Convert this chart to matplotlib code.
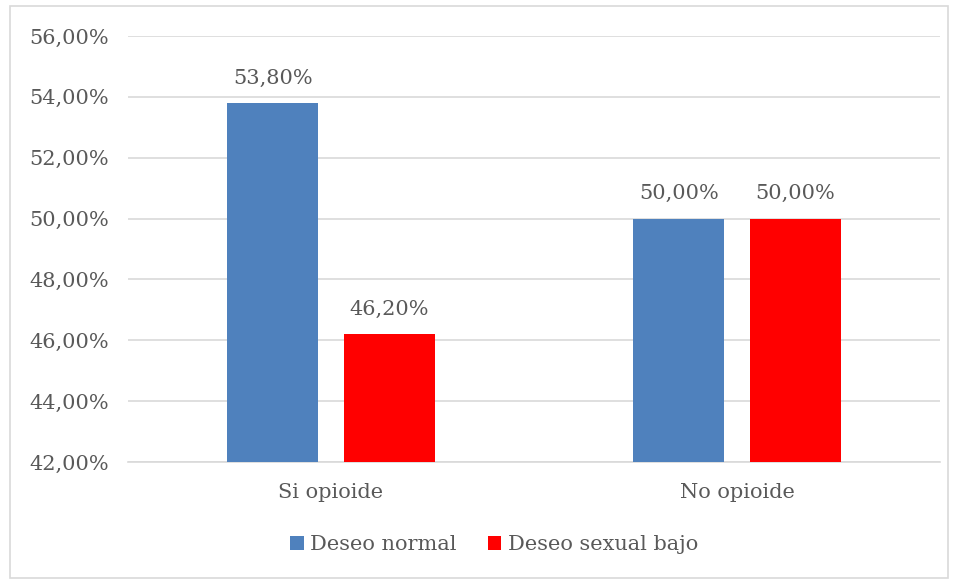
import matplotlib.pyplot as plt
import numpy as np
from matplotlib.patches import Rectangle

categorias = ["Si opioide", "No opioide"]
deseo_normal = [53.80, 50.00]
deseo_bajo = [46.20, 50.00]
series = ["Deseo normal", "Deseo sexual bajo"]

plt.rcParams['font.family'] = ['DejaVu Serif']
gris = "#595959"
tam = 15

fig = plt.figure(figsize=(9.57, 5.8), dpi=100)
fig.patches.append(Rectangle((10 / 957, 2 / 580), 938 / 957, 572 / 580,
                             transform=fig.transFigure, fill=False,
                             edgecolor="#D9D9D9", linewidth=1.2))
ax = fig.add_axes([128 / 957, 1 - 462 / 580, 812 / 957, 426 / 580])

x = np.arange(len(categorias))
ancho = 0.224
desp = 0.143
b1 = ax.bar(x - desp, deseo_normal, ancho, color="#4F81BD", label=series[0], zorder=3)
b2 = ax.bar(x + desp, deseo_bajo, ancho, color="#FF0000", label=series[1], zorder=3)

for barras in (b1, b2):
    for b in barras:
        v = b.get_height()
        ax.text(b.get_x() + b.get_width() / 2, v + 0.5,
                f"{v:.2f}%".replace(".", ","), ha="center", va="bottom",
                fontsize=tam, color=gris)

ax.set_ylim(42, 56)
ax.set_xlim(-0.5, 1.5)
ticks = np.arange(42, 57, 2)
ax.set_yticks(ticks)
ax.set_yticklabels([f"{t:.2f}%".replace(".", ",") for t in ticks])
ax.set_xticks(x)
ax.set_xticklabels(categorias)
ax.tick_params(axis="both", length=0, labelsize=tam, colors=gris)
ax.tick_params(axis="y", pad=14)
ax.tick_params(axis="x", pad=15)
ax.grid(axis="y", color="#D9D9D9", linewidth=1.2, zorder=0)
for lado in ["top", "right", "left"]:
    ax.spines[lado].set_visible(False)
ax.spines["bottom"].set_color("#D9D9D9")
ax.spines["bottom"].set_linewidth(1.2)

fig.legend(handles=[b1, b2], loc="center", bbox_to_anchor=(494 / 957, 1 - 545 / 580),
           ncol=2, frameon=False, fontsize=tam, labelcolor=gris,
           handlelength=0.65, handleheight=0.65, handletextpad=0.3, columnspacing=1.5)

fig.savefig("out.png", dpi=100)
